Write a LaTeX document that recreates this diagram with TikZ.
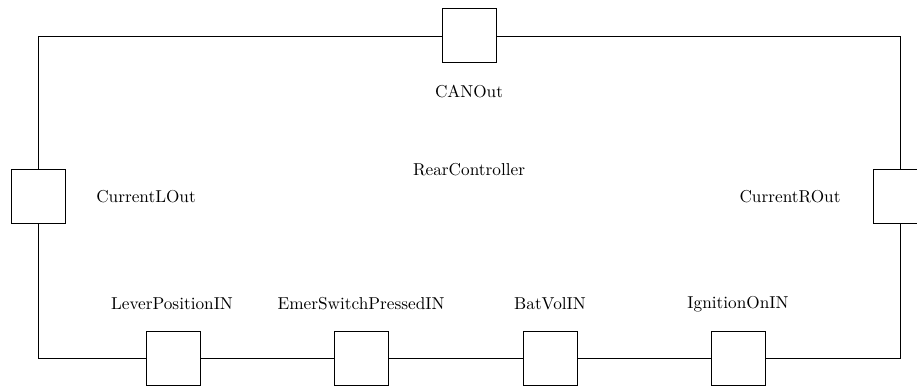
\documentclass[tikz,border=0pt]{standalone}
\begin{document}
\begin{tikzpicture}[x=0.58pt,y=-0.58pt,
  port/.style={draw,fill=white,minimum width=31.3pt,minimum height=31.3pt,inner sep=0pt,line width=0.45pt},
  lbl/.style={inner sep=0pt,font=\normalsize}]
\useasboundingbox (0,0) rectangle (917,385);
% main block outline
\coordinate (tl) at (38.5,36);
\coordinate (br) at (900.5,358);
\draw[line width=0.45pt] (tl) rectangle (br);
% ports
\node[port] (can) at (469.5,35) {};
\node[port] (cl) at (38.5,196.5) {};
\node[port] (cr) at (900.5,196.5) {};
\node[port] (lev) at (173.5,358) {};
\node[port] (emer) at (361.5,358) {};
\node[port] (bat) at (550.5,358) {};
\node[port] (ign) at (738.5,358) {};
% labels
\node[lbl] (tcan) at (469,92) {CANOut};
\node[lbl] (trc) at (469,170) {RearController};
\node[lbl] (tcl) at (146,197) {CurrentLOut};
\node[lbl] (tcr) at (790,197) {CurrentROut};
\node[lbl] (tlev) at (172,304) {LeverPositionIN};
\node[lbl] (temer) at (361,304) {EmerSwitchPressedIN};
\node[lbl] (tbat) at (550,304) {BatVolIN};
\node[lbl] (tign) at (738,304) {IgnitionOnIN};
\end{tikzpicture}
\end{document}
